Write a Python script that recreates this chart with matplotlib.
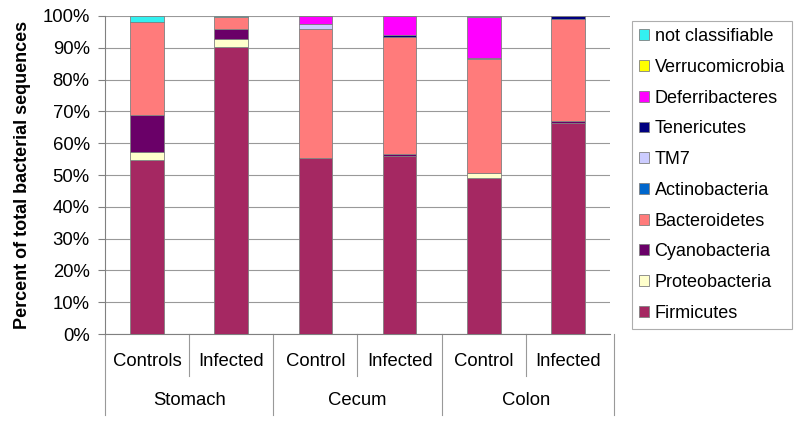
import matplotlib
matplotlib.use("Agg")
import matplotlib.pyplot as plt
import matplotlib.transforms as mtransforms
import numpy as np

plt.rcParams['font.family'] = ['Liberation Sans', 'DejaVu Sans']

categories = ["Controls", "Infected", "Control", "Infected", "Control", "Infected"]
groups = ["Stomach", "Cecum", "Colon"]

# percent of sequences per phylum, bottom to top
phyla = ["Firmicutes", "Proteobacteria", "Cyanobacteria", "Bacteroidetes",
         "Actinobacteria", "TM7", "Tenericutes", "Deferribacteres",
         "Verrucomicrobia", "not classifiable"]
firmicutes = [54.7, 90.3, 55.4, 56.0, 49.2, 66.4]
proteobacteria = [2.6, 2.4, 0.0, 0.0, 1.3, 0.0]
cyanobacteria = [11.6, 3.1, 0.0, 0.5, 0.0, 0.5]
bacteroidetes = [29.1, 3.8, 40.4, 36.9, 36.0, 32.2]
actinobacteria = [0.0, 0.0, 0.0, 0.0, 0.0, 0.0]
tm7 = [0.0, 0.0, 1.7, 0.0, 0.4, 0.0]
tenericutes = [0.0, 0.0, 0.0, 0.6, 0.0, 0.9]
deferribacteres = [0.0, 0.0, 2.5, 6.0, 12.8, 0.0]
verrucomicrobia = [0.0, 0.0, 0.0, 0.0, 0.0, 0.0]
not_classifiable = [2.0, 0.4, 0.0, 0.0, 0.3, 0.0]

series = [firmicutes, proteobacteria, cyanobacteria, bacteroidetes,
          actinobacteria, tm7, tenericutes, deferribacteres,
          verrucomicrobia, not_classifiable]
colors = ["#A52862", "#FFFFCC", "#6A0068", "#FF7B7B", "#0066CC",
          "#CCCCFF", "#000080", "#FF00FF", "#FFFF00", "#33F0F0"]

fig = plt.figure(figsize=(8, 4.23), dpi=100)
ax = fig.add_axes([105 / 800, 1 - 334 / 423, 505 / 800, 318 / 423])

x = np.arange(len(categories))
bottom = np.zeros(len(categories))
handles = []
for name, vals, c in zip(phyla, series, colors):
    vals = np.array(vals)
    b = ax.bar(x, vals, 0.4, bottom=bottom, color=c, edgecolor="#808080",
               linewidth=0.6, label=name, zorder=3)
    handles.append(b)
    bottom += vals

ax.set_xlim(-0.5, len(categories) - 0.5)
ax.set_ylim(0, 100)
ax.set_yticks(np.arange(0, 101, 10))
ax.set_yticklabels([f"{v}%" for v in range(0, 101, 10)], fontsize=13.3)
ax.yaxis.grid(True, color="#999999", linewidth=0.8, zorder=0)
ax.tick_params(axis="y", length=5, color="#808080", pad=6)
ax.set_xticks([])
for s in ["top", "right"]:
    ax.spines[s].set_visible(False)
ax.spines["left"].set_color("#808080")
ax.spines["bottom"].set_color("#808080")
ax.set_ylabel("Percent of total bacterial sequences", fontsize=13,
              fontweight="bold", labelpad=8)

# two-level category axis
trans = mtransforms.blended_transform_factory(ax.transData, ax.transAxes)
for i, cat in enumerate(categories):
    ax.text(i, -0.088, cat, transform=trans, ha="center", va="center", fontsize=13.3)
for i in range(1, len(categories)):
    low = -0.255 if i % 2 == 0 else -0.132
    ax.plot([i - 0.5, i - 0.5], [0, low], transform=trans, color="#999999",
            linewidth=0.8, clip_on=False)
ax.plot([-0.5, -0.5], [0, -0.255], transform=trans, color="#999999",
        linewidth=0.8, clip_on=False)
ax.plot([5.55, 5.55], [0, -0.255], transform=trans, color="#999999",
        linewidth=0.8, clip_on=False)
for g, name in enumerate(groups):
    ax.text(2 * g + 0.5, -0.208, name, transform=trans, ha="center",
            va="center", fontsize=13.3)

leg = fig.legend(handles[::-1], phyla[::-1], loc="upper left",
                 bbox_to_anchor=(632 / 800, 1 - 21 / 423), fontsize=13,
                 frameon=True, fancybox=False, edgecolor="#999999",
                 handlelength=0.55, handleheight=0.55, handletextpad=0.3,
                 labelspacing=0.76, borderpad=0.4, borderaxespad=0)
leg.get_frame().set_linewidth(0.8)

fig.savefig("out.png", dpi=100)
